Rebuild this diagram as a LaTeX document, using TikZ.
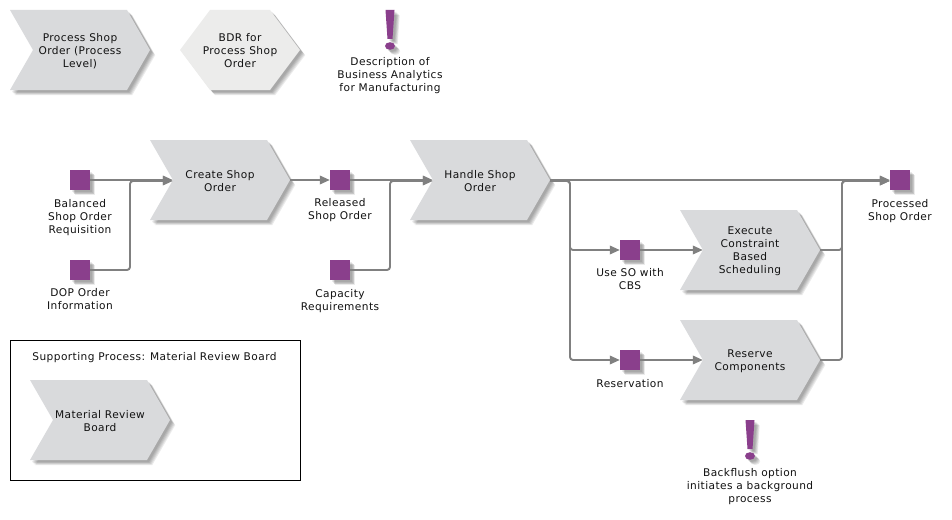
\documentclass[tikz,border=0pt]{standalone}
\usepackage{fontspec}
\setmainfont[LetterSpace=4]{DejaVu Sans}
\usetikzlibrary{arrows.meta}
\definecolor{funcfill}{HTML}{D9DADC}
\definecolor{hexfill}{HTML}{ECECEB}
\definecolor{purp}{HTML}{8A3F8C}
\definecolor{linegray}{HTML}{808080}
\definecolor{ink}{HTML}{111111}
\tikzset{
  x=1pt,y=-1pt,
  softshadow/.style={fill=black,opacity=0.08,draw=none},
  lbl/.style={align=center,text=ink,font=\fontsize{10.6}{13}\selectfont,inner sep=0pt},
  state/.style={fill=purp,draw=none,minimum size=20pt,inner sep=0pt},
  link/.style={draw=linegray,line width=1.9pt,rounded corners=3pt},
  arrowlink/.style={link,-{Triangle[length=10pt,width=8.5pt,fill=linegray]}},
  framebox/.style={draw=black,line width=0.7pt,fill=white},
  lowlane/.style={yshift=-1pt},
}
% soft drop shadow under an arbitrary closed outline
\newcommand{\softdrop}[1]{%
  \foreach \d in {2,2.8,3.6,4.4,5.2}{\path[softshadow,shift={(\d,\d)}] #1;}}
% chevron process: name, left x, top y, text; the node spans notch to shoulder
\newcommand{\chevron}[4]{%
  \softdrop{(#2,#3) -- ++(117,0) -- ++(23,40) -- ++(-23,40) -- ++(-117,0) -- ++(23,-40) -- cycle}
  \path[fill=funcfill] (#2,#3) -- ++(117,0) -- ++(23,40) -- ++(-23,40) -- ++(-117,0) -- ++(23,-40) -- cycle;
  \node[lbl,minimum width=94pt,minimum height=80pt] (#1) at (#2+70,#3+40) {};
  \node[lbl] (#1-text) at (#2+70,#3+41) {#4};
  \coordinate (#1-out) at (#2+140,#3+40);}
% square event with a caption underneath
\newcommand{\event}[5]{%
  \softdrop{(#2-10,#3-10) rectangle ++(20,20)}
  \node[state] (#1) at (#2,#3) {};
  \node[lbl,anchor=north] (#1-cap) at (#2,#3+#5) {#4};}
% exclamation mark with caption
\newcommand{\alertmark}[5]{%
  \softdrop{(#2-4.5,#3) -- ++(9,0) -- ++(-2,29) -- ++(-5,0) -- cycle (#2,#3+36) ellipse [x radius=5,y radius=3.8]}
  \path[fill=purp] (#2-4.5,#3) -- ++(9,0) -- ++(-2,29) -- ++(-5,0) -- cycle;
  \path[fill=purp] (#2,#3+36) ellipse [x radius=5,y radius=3.8];
  \node[lbl,anchor=north] (#1) at (#2,#3+#5) {#4};}
\begin{document}
\begin{tikzpicture}
\useasboundingbox (0,0) rectangle (952,519);
\fill[white] (0,0) rectangle (952,519);

% supporting process frame
\node[framebox,minimum width=290pt,minimum height=140pt,inner sep=0pt] (frame) at (155,410) {};
\node[lbl] (frametitle) at (154.5,357.5) {Supporting Process: Material Review Board};

% overview row
\chevron{overview}{10}{10}{Process Shop\\Order (Process\\Level)}
\softdrop{(180,50) -- (210,10) -- (270,10) -- (300,50) -- (270,90) -- (210,90) -- cycle}
\path[fill=hexfill] (180,50) -- (210,10) -- (270,10) -- (300,50) -- (270,90) -- (210,90) -- cycle;
\node[lbl] (bdr) at (240,51) {BDR for\\Process Shop\\Order};
\alertmark{analytics}{390}{10}{Description of\\Business Analytics\\for Manufacturing}{47}

% processes
\chevron{create}{150}{140}{Create Shop\\Order}
\chevron{handle}{410}{140}{Handle Shop\\Order}
\chevron{execute}{680}{210}{Execute\\Constraint\\Based\\Scheduling}
\chevron{reserve}{680}{320}{Reserve\\Components}
\chevron{mrb}{30}{380}{Material Review\\Board}

% events
\event{balanced}{80}{180}{Balanced\\Shop Order\\Requisition}{19}
\event{dop}{80}{270}{DOP Order\\Information}{18}
\event{released}{340}{180}{Released\\Shop Order}{18}
\event{capacity}{340}{270}{Capacity\\Requirements}{19}
\event{useso}{630}{250}{Use SO with\\CBS}{18}
\event{reservation}{630}{360}{Reservation}{19}
\event{processed}{900}{180}{Processed\\Shop Order}{19}

\alertmark{backflush}{750}{420}{Backflush option\\initiates a background\\process}{48}

% connectors; merging routes run one unit below the main line
\draw[arrowlink] (balanced.east) -- (create.west);
\draw[arrowlink] (dop.east) -| (130,181) -- ([lowlane]create.west);
\draw[arrowlink] (create-out) -- (released.west);
\draw[arrowlink] (released.east) -- (handle.west);
\draw[arrowlink] (capacity.east) -| (390,181) -- ([lowlane]handle.west);
\draw[arrowlink] (handle-out) -- (processed.west);
\draw[arrowlink] ([lowlane]handle-out) -| (570,250) -- (useso.west);
\draw[arrowlink] ([lowlane]handle-out) -| (570,360) -- (reservation.west);
\draw[arrowlink] (useso.east) -- (execute.west);
\draw[arrowlink] (reservation.east) -- (reserve.west);
\draw[arrowlink] (execute-out) -| (842,181) -- ([lowlane]processed.west);
\draw[arrowlink] (reserve-out) -| (842,181) -- ([lowlane]processed.west);
\end{tikzpicture}
\end{document}
